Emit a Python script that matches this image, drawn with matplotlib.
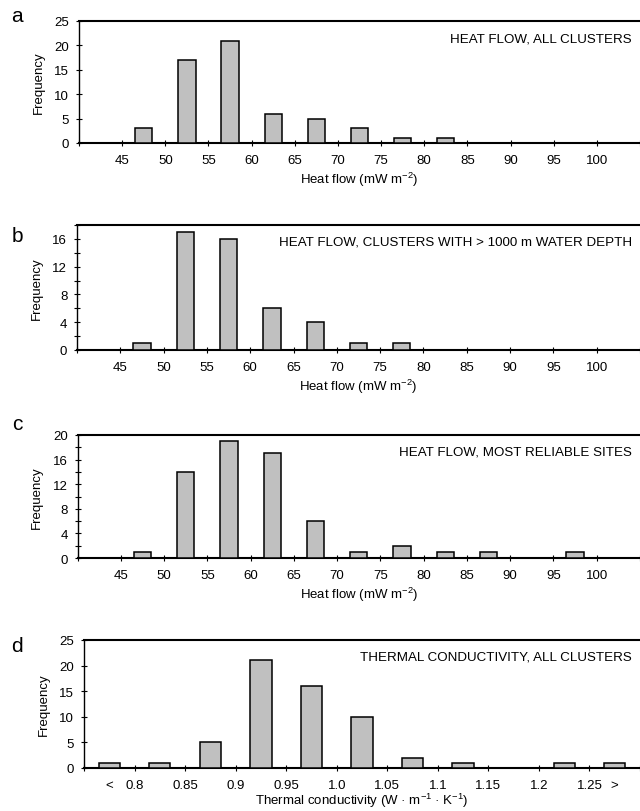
import numpy as np
import matplotlib
matplotlib.use("Agg")
import matplotlib.pyplot as plt
from matplotlib.ticker import MultipleLocator

plt.rcParams['font.family'] = ['Liberation Sans', 'DejaVu Sans']
plt.rcParams['mathtext.fontset'] = 'custom'
plt.rcParams['mathtext.rm'] = 'Liberation Sans'
plt.rcParams['mathtext.default'] = 'regular'

# heat flow bins (left edges, mW m-2)
hf_bins = [45, 50, 55, 60, 65, 70, 75, 80, 85, 90, 95]
hf_all = [3, 17, 21, 6, 5, 3, 1, 1, 0, 0, 0]
hf_deep = [1, 17, 16, 6, 4, 1, 1, 0, 0, 0, 0]
hf_reliable = [1, 14, 19, 17, 6, 1, 2, 1, 1, 0, 1]
hf_ticks = [40, 45, 50, 55, 60, 65, 70, 75, 80, 85, 90, 95, 100, 105]

# thermal conductivity bins
tc_labels = ['0.8', '0.85', '0.9', '0.95', '1.0', '1.05', '1.1', '1.15', '1.2', '1.25']
tc_counts = [1, 1, 5, 21, 16, 10, 2, 1, 0, 1, 1]

titles = ['HEAT FLOW, ALL CLUSTERS',
          'HEAT FLOW, CLUSTERS WITH > 1000 m WATER DEPTH',
          'HEAT FLOW, MOST RELIABLE SITES',
          'THERMAL CONDUCTIVITY, ALL CLUSTERS']
letters = ['a', 'b', 'c', 'd']

W, H = 640, 812
fig = plt.figure(figsize=(W / 100, H / 100), dpi=100)

FS = 9.5
BAR_FC = '#c0c0c0'


def px_axes(left, top, bottom, right=640):
    return fig.add_axes([left / W, 1 - bottom / H, (right - left) / W, (bottom - top) / H])


def style(ax, ymax, major, minor=None):
    ax.set_ylim(0, ymax)
    ax.yaxis.set_major_locator(MultipleLocator(major))
    if minor:
        ax.yaxis.set_minor_locator(MultipleLocator(minor))
    ax.spines['right'].set_visible(False)
    ax.spines['top'].set_linewidth(1.5)
    ax.spines['bottom'].set_linewidth(1.5)
    ax.spines['left'].set_linewidth(1.0)
    ax.tick_params(axis='x', direction='inout', length=5, width=0.8, pad=5.5, labelsize=FS)
    ax.tick_params(axis='y', which='both', direction='inout', length=4, width=0.8, pad=5, labelsize=FS)
    ax.set_ylabel('Frequency', fontsize=FS, labelpad=7)


def heat_panel(ax, counts, ymax, major, minor=None):
    centers = np.array(hf_bins) + 2.5
    ax.bar(centers, counts, width=2.0, color=BAR_FC, edgecolor='black', linewidth=1.1, zorder=3)
    ax.set_xlim(40, 105)
    ax.set_xticks(hf_ticks)
    ax.set_xticklabels([''] + [str(t) for t in hf_ticks[1:-1]] + [''])
    style(ax, ymax, major, minor)
    ax.set_xlabel('Heat flow (mW m$^{-2}$)', fontsize=FS, labelpad=3)


ax_a = px_axes(79, 22, 144)
heat_panel(ax_a, hf_all, 25, 5)

ax_b = px_axes(77, 226, 351)
heat_panel(ax_b, hf_deep, 18, 4, 2)

ax_c = px_axes(77.5, 436, 559)
heat_panel(ax_c, hf_reliable, 20, 4, 2)

ax_d = px_axes(84, 641, 769)
idx = np.arange(len(tc_counts))
ax_d.bar(idx + 0.5, tc_counts, width=0.42, color=BAR_FC, edgecolor='black', linewidth=1.1, zorder=3)
ax_d.set_xlim(0, 11)
ax_d.set_xticks(np.arange(0, 12))
ax_d.set_xticklabels([''] + tc_labels + [''])
ax_d.set_xticks([0.5, 10.5], ['<', '>'], minor=True)
ax_d.tick_params(axis='x', which='minor', length=0, pad=8, labelsize=FS)
style(ax_d, 25, 5)
ax_d.set_xlabel('Thermal conductivity (W · m$^{-1}$ · K$^{-1}$)', fontsize=FS, labelpad=0)

axes = [ax_a, ax_b, ax_c, ax_d]
letter_y = [17, 236, 425, 647]
for ax, t, let, ly in zip(axes, titles, letters, letter_y):
    # title inside top right
    top_px = (1 - ax.get_position().y1) * H
    fig.text(632 / W, 1 - (top_px + 17) / H, t, ha='right', va='center', fontsize=9.6)
    fig.text(17 / W, 1 - ly / H, let, ha='center', va='center', fontsize=15)

fig.savefig('out.png', dpi=100)
